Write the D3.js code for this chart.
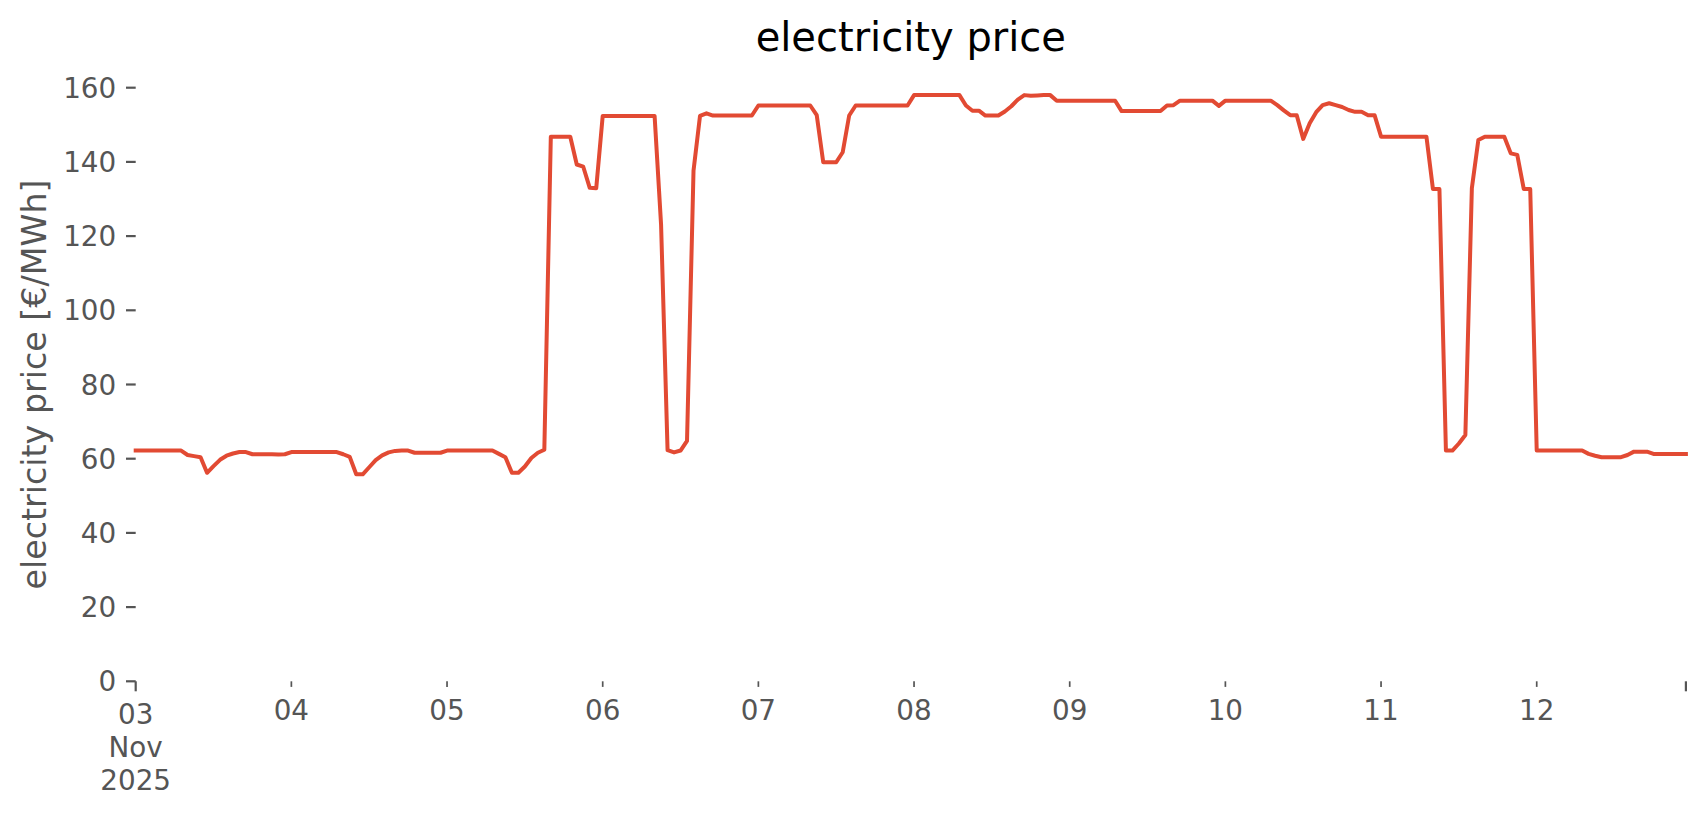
<!DOCTYPE html>
<html>
<head>
<meta charset="utf-8">
<script src="https://cdn.jsdelivr.net/npm/d3@7"></script>
<style>
  html, body { margin: 0; padding: 0; background: #ffffff; }
  svg { display: block; font-family: "DejaVu Sans", sans-serif; }
</style>
</head>
<body>
<svg id="chart" width="1706" height="815"></svg>
<script>
// ---- data (hourly electricity price, €/MWh) ----
const startTime = "2025-11-03T00:00:00Z";
const day03 = [62.2,62.2,62.2,62.2,62.2,62.2,62.2,62.2,61.0,60.7,60.4,56.2,58.0,59.7,60.8,61.4,61.8,61.8,61.2,61.2,61.2,61.2,61.1,61.2];
const day04 = [61.8,61.8,61.8,61.8,61.8,61.8,61.8,61.8,61.2,60.5,55.8,55.8,57.7,59.6,60.9,61.7,62.1,62.2,62.2,61.6,61.6,61.6,61.6,61.6];
const day05 = [62.2,62.2,62.2,62.2,62.2,62.2,62.2,62.2,61.3,60.4,56.2,56.2,57.9,60.2,61.6,62.4,146.8,146.8,146.8,146.8,139.3,138.7,133.0,132.9];
const day06 = [152.4,152.4,152.4,152.4,152.4,152.4,152.4,152.4,152.4,123.0,62.3,61.7,62.2,64.8,137.6,152.4,153.1,152.5,152.5,152.5,152.5,152.5,152.5,152.5];
const day07 = [155.2,155.2,155.2,155.2,155.2,155.2,155.2,155.2,155.2,152.6,139.9,139.9,139.9,142.6,152.5,155.2,155.2,155.2,155.2,155.2,155.2,155.2,155.2,155.2];
const day08 = [158.0,158.0,158.0,158.0,158.0,158.0,158.0,158.0,155.2,153.8,153.8,152.5,152.5,152.5,153.6,155.0,156.8,158.0,157.8,157.9,158.0,158.0,156.5,156.5];
const day09 = [156.5,156.5,156.5,156.5,156.5,156.5,156.5,156.5,153.7,153.7,153.7,153.7,153.7,153.7,153.7,155.2,155.3,156.5,156.5,156.5,156.5,156.5,156.5,155.1];
const day10 = [156.5,156.5,156.5,156.5,156.5,156.5,156.5,156.5,155.3,153.9,152.6,152.6,146.2,150.4,153.4,155.3,155.8,155.3,154.8,154.0,153.5,153.5,152.6,152.6];
const day11 = [146.8,146.8,146.8,146.8,146.8,146.8,146.8,146.8,132.7,132.7,62.2,62.2,64.1,66.4,132.9,145.9,146.8,146.8,146.8,146.8,142.3,141.9,132.7,132.7];
const day12 = [62.2,62.2,62.2,62.2,62.2,62.2,62.2,62.2,61.3,60.8,60.4,60.4,60.4,60.4,61.0,61.9,61.9,61.9,61.3,61.3,61.3,61.3,61.3,61.3];
const yTicks = [0, 20, 40, 60, 80, 100, 120, 140, 160];
const majorLabel = ["03", "Nov", "2025"];
const minorLabels = ["04", "05", "06", "07", "08", "09", "10", "11", "12"];
const titleText = "electricity price";
const yLabelText = "electricity price [€/MWh]";

// ---- build series ----
const prices = [].concat(day03, day04, day05, day06, day07, day08, day09, day10, day11, day12);
const t0 = new Date(startTime);
const series = prices.map((v, i) => ({ t: d3.utcHour.offset(t0, i), v }));
const tEnd = series[series.length - 1].t;

// ---- layout ----
const plotLeft = 135.7, plotRight = 1685.9, plotBottom = 681.3, y160 = 87.7;
const svg = d3.select("#chart");
const x = d3.scaleUtc().domain([t0, tEnd]).range([plotLeft, plotRight]);
const y = d3.scaleLinear().domain([0, 160]).range([plotBottom, y160]);

const grey = "#555555";
const tickFont = 27.8;

// y axis
const yAxis = svg.append("g");
yTicks.forEach(v => {
  yAxis.append("line")
    .attr("x1", plotLeft - 9.7).attr("x2", plotLeft)
    .attr("y1", y(v)).attr("y2", y(v))
    .attr("stroke", grey).attr("stroke-width", 2.2);
  yAxis.append("text")
    .attr("x", plotLeft - 19.5).attr("y", y(v))
    .attr("dy", "0.36em")
    .attr("text-anchor", "end")
    .attr("font-size", tickFont)
    .attr("fill", grey)
    .text(v);
});

// x axis
const xAxis = svg.append("g");
const minorDates = minorLabels.map((_, i) => d3.utcDay.offset(t0, i + 1));
[t0, tEnd].forEach(d => {
  xAxis.append("line")
    .attr("x1", x(d)).attr("x2", x(d))
    .attr("y1", plotBottom).attr("y2", plotBottom + 10)
    .attr("stroke", grey).attr("stroke-width", 2.2);
});
minorDates.forEach((d, i) => {
  xAxis.append("line")
    .attr("x1", x(d)).attr("x2", x(d))
    .attr("y1", plotBottom).attr("y2", plotBottom + 5.6)
    .attr("stroke", grey).attr("stroke-width", 1.7);
  xAxis.append("text")
    .attr("x", x(d)).attr("y", 720.3)
    .attr("text-anchor", "middle")
    .attr("font-size", tickFont)
    .attr("fill", grey)
    .text(minorLabels[i]);
});
majorLabel.forEach((s, i) => {
  xAxis.append("text")
    .attr("x", x(t0)).attr("y", 724.3 + i * 32.6)
    .attr("text-anchor", "middle")
    .attr("font-size", tickFont)
    .attr("fill", grey)
    .text(s);
});

// line
const line = d3.line().x(d => x(d.t)).y(d => y(d.v));
svg.append("path")
  .datum(series)
  .attr("d", line)
  .attr("fill", "none")
  .attr("stroke", "#E24A33")
  .attr("stroke-width", 4)
  .attr("stroke-linejoin", "round")
  .attr("stroke-linecap", "square");

// title
svg.append("text")
  .attr("x", (plotLeft + plotRight) / 2).attr("y", 51)
  .attr("text-anchor", "middle")
  .attr("font-size", 40)
  .attr("fill", "#000000")
  .text(titleText);

// y label
svg.append("text")
  .attr("transform", `translate(45.5, ${(plotBottom + y160) / 2}) rotate(-90)`)
  .attr("text-anchor", "middle")
  .attr("font-size", 33.3)
  .attr("fill", grey)
  .text(yLabelText);
</script>
</body>
</html>
